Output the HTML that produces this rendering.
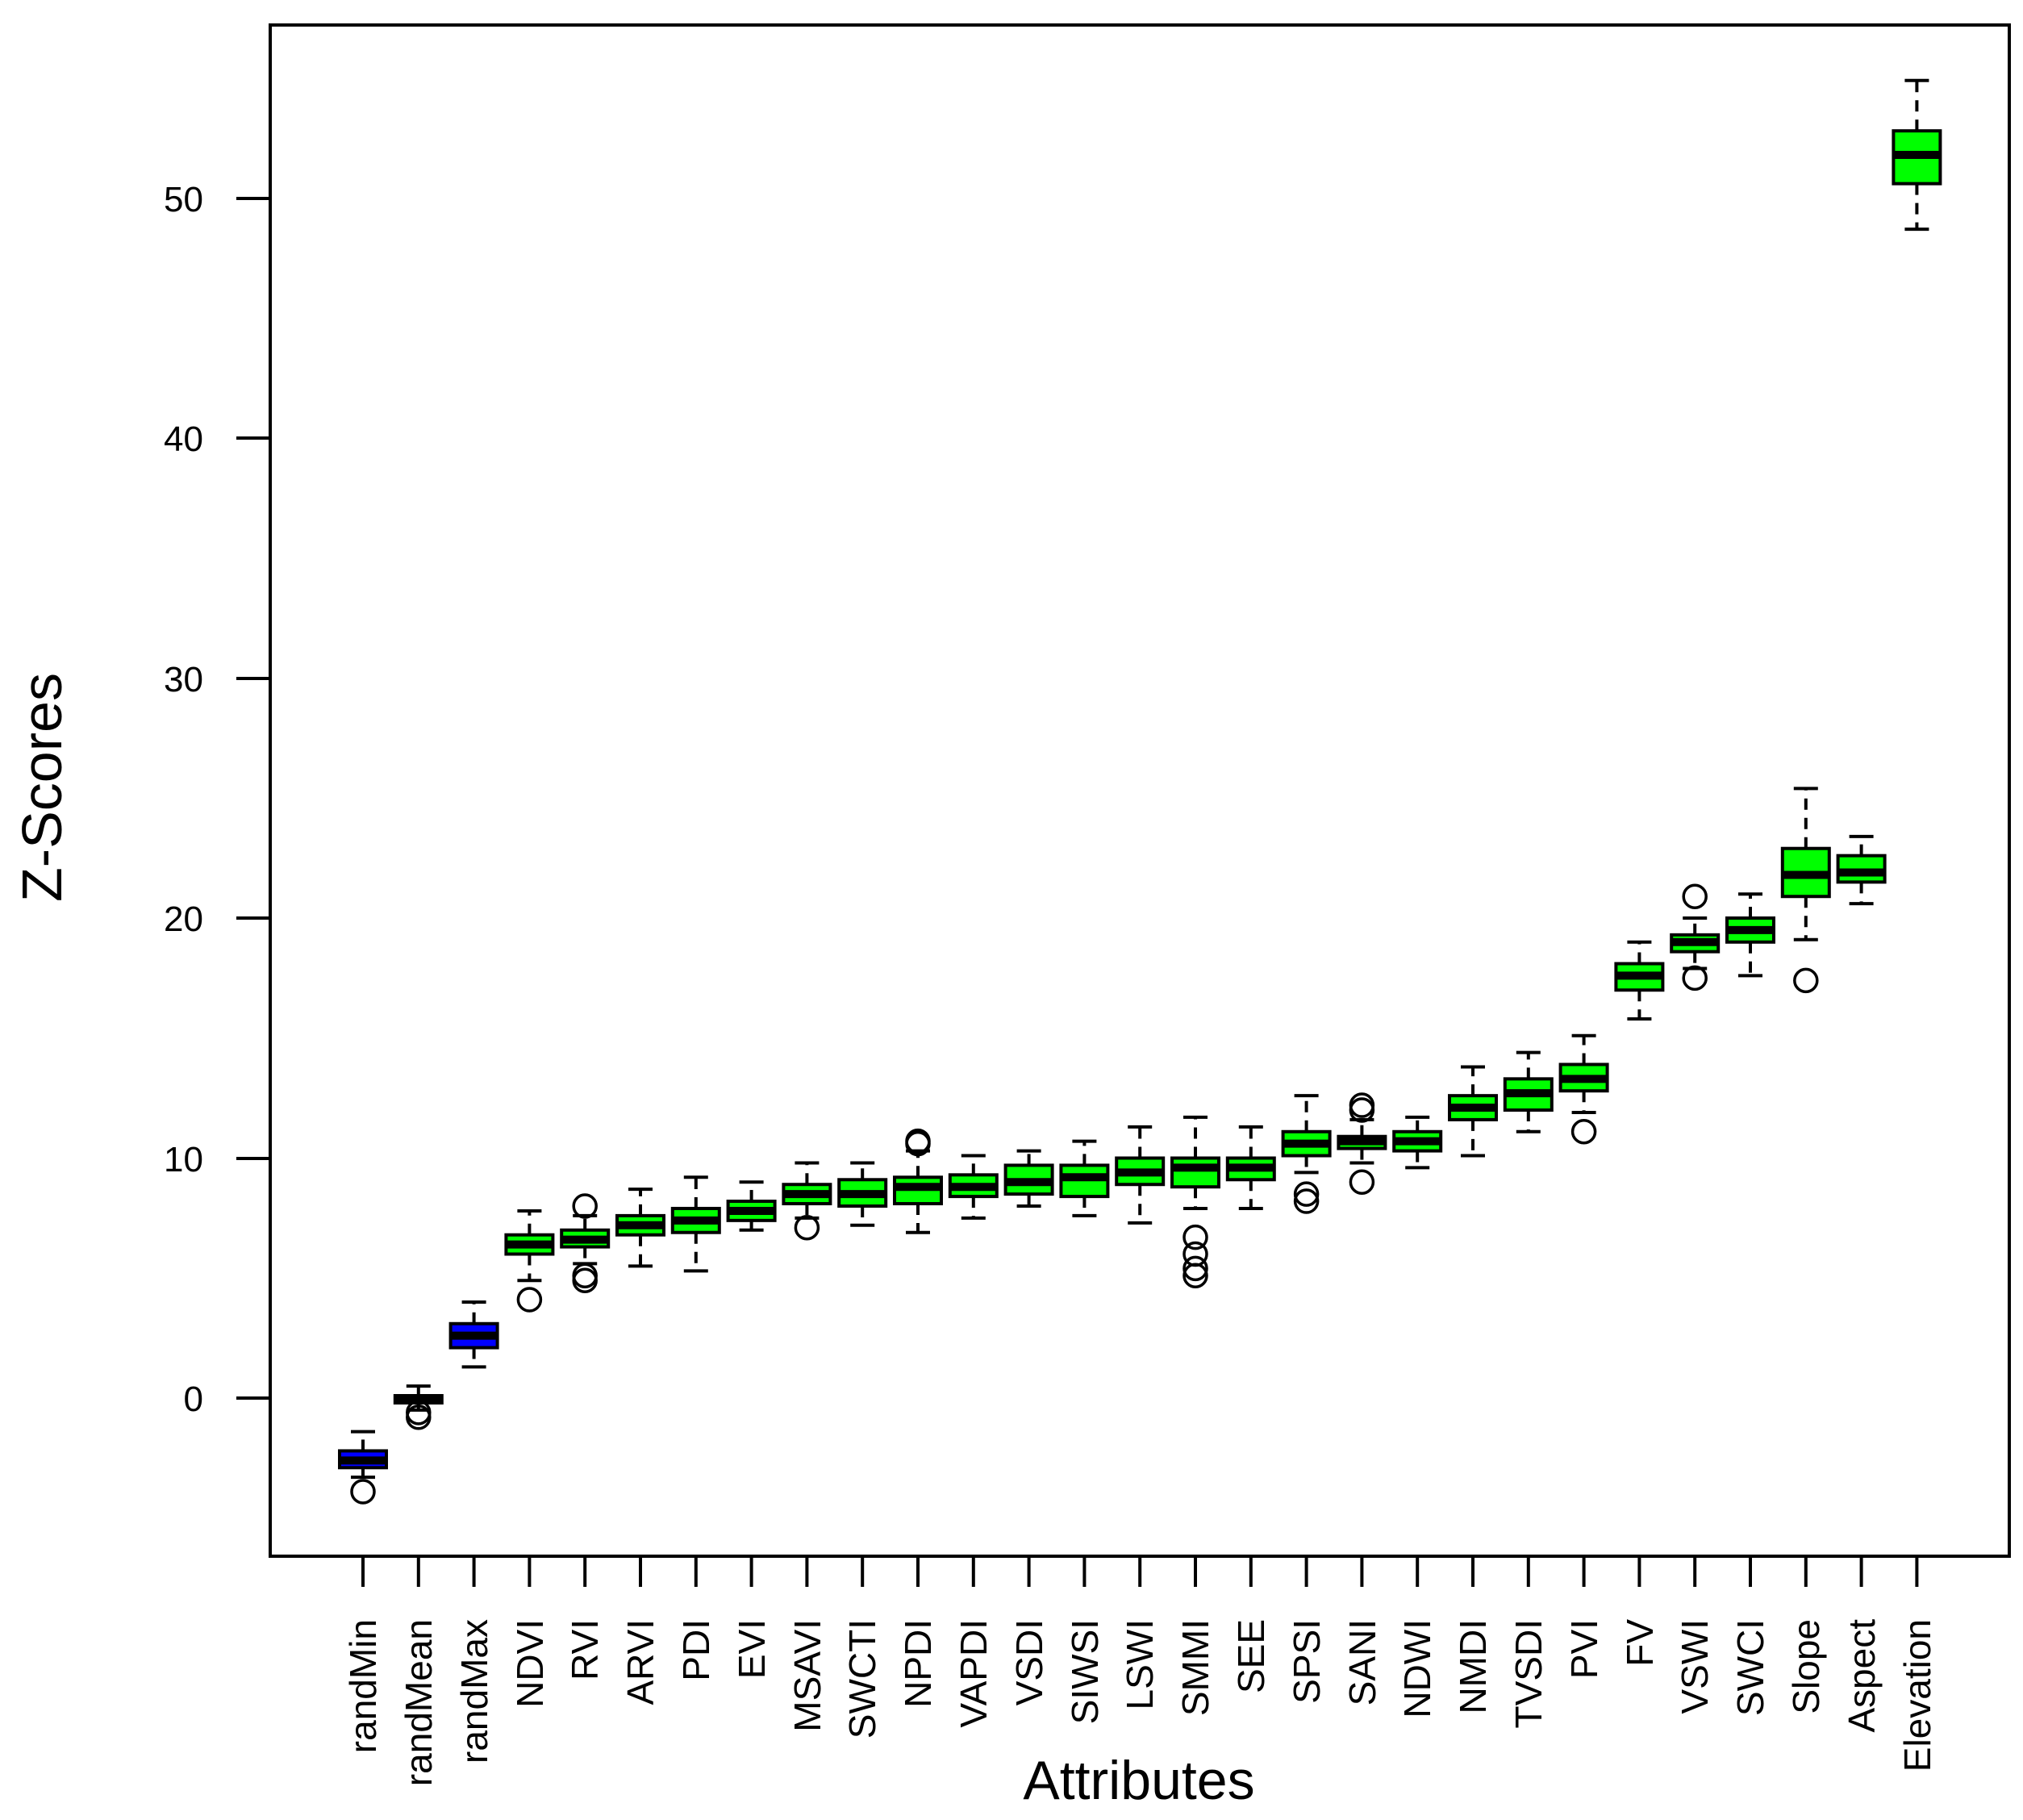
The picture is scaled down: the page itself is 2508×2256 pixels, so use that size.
<!DOCTYPE html>
<html><head><meta charset="utf-8"><style>body{margin:0;background:#fff}svg{display:block}text{font-family:"Liberation Sans",sans-serif;fill:#000}</style></head>
<body>
<svg id="s" width="2508" height="2256" xmlns="http://www.w3.org/2000/svg">
<rect x="335" y="31" width="2156" height="1898" fill="none" stroke="#000" stroke-width="4"/>
<g stroke="#000" stroke-width="4">
<line x1="293" y1="1733" x2="335" y2="1733"/><line x1="293" y1="1436" x2="335" y2="1436"/><line x1="293" y1="1138" x2="335" y2="1138"/><line x1="293" y1="841" x2="335" y2="841"/><line x1="293" y1="543" x2="335" y2="543"/><line x1="293" y1="246" x2="335" y2="246"/>
</g>
<g font-size="44" text-anchor="end">
<text x="252" y="1749">0</text><text x="252" y="1452">10</text><text x="252" y="1154">20</text><text x="252" y="857">30</text><text x="252" y="559">40</text><text x="252" y="262">50</text>
</g>
<text font-size="70" text-anchor="middle" transform="translate(76,976) rotate(-90)">Z-Scores</text>
<text font-size="68" text-anchor="middle" x="1412" y="2230">Attributes</text>
<g id="xl" font-size="46" text-anchor="end">
<text transform="translate(466,2007) rotate(-90)">randMin</text>
<text transform="translate(535,2007) rotate(-90)">randMean</text>
<text transform="translate(604,2007) rotate(-90)">randMax</text>
<text transform="translate(673,2007) rotate(-90)">NDVI</text>
<text transform="translate(741,2007) rotate(-90)">RVI</text>
<text transform="translate(810,2007) rotate(-90)">ARVI</text>
<text transform="translate(879,2007) rotate(-90)">PDI</text>
<text transform="translate(948,2007) rotate(-90)">EVI</text>
<text transform="translate(1017,2007) rotate(-90)">MSAVI</text>
<text transform="translate(1085,2007) rotate(-90)">SWCTI</text>
<text transform="translate(1154,2007) rotate(-90)">NPDI</text>
<text transform="translate(1223,2007) rotate(-90)">VAPDI</text>
<text transform="translate(1292,2007) rotate(-90)">VSDI</text>
<text transform="translate(1361,2007) rotate(-90)">SIWSI</text>
<text transform="translate(1429,2007) rotate(-90)">LSWI</text>
<text transform="translate(1498,2007) rotate(-90)">SMMI</text>
<text transform="translate(1567,2007) rotate(-90)">SEE</text>
<text transform="translate(1636,2007) rotate(-90)">SPSI</text>
<text transform="translate(1705,2007) rotate(-90)">SANI</text>
<text transform="translate(1773,2007) rotate(-90)">NDWI</text>
<text transform="translate(1842,2007) rotate(-90)">NMDI</text>
<text transform="translate(1911,2007) rotate(-90)">TVSDI</text>
<text transform="translate(1980,2007) rotate(-90)">PVI</text>
<text transform="translate(2049,2007) rotate(-90)">FV</text>
<text transform="translate(2117,2007) rotate(-90)">VSWI</text>
<text transform="translate(2186,2007) rotate(-90)">SWCI</text>
<text transform="translate(2255,2007) rotate(-90)">Slope</text>
<text transform="translate(2324,2007) rotate(-90)">Aspect</text>
<text transform="translate(2393,2007) rotate(-90)">Elevation</text>
</g>
<g id="g"></g>
</svg>
<script>
var d=[
[-2.9,-2.2,-2.6,-3.3,-1.4,[-3.9],'#0000ff'],
[-0.2,0.1,0,-0.5,0.5,[-0.6,-0.8],'#0000ff'],
[2.1,3.1,2.6,1.3,4.0,[],'#0000ff'],
[6.0,6.8,6.4,4.9,7.8,[4.1]],
[6.3,7.0,6.6,5.6,7.6,[8.0,5.1,4.9]],
[6.8,7.6,7.2,5.5,8.7,[]],
[6.9,7.9,7.4,5.3,9.2,[]],
[7.4,8.2,7.8,7.0,9.0,[]],
[8.1,8.9,8.5,7.5,9.8,[7.1]],
[8.0,9.1,8.5,7.2,9.8,[]],
[8.1,9.2,8.8,6.9,10.3,[10.6,10.7]],
[8.4,9.3,8.8,7.5,10.1,[]],
[8.5,9.7,9.0,8.0,10.3,[]],
[8.4,9.7,9.2,7.6,10.7,[]],
[8.9,10.0,9.4,7.3,11.3,[]],
[8.8,10.0,9.6,7.9,11.7,[6.7,6.0,5.4,5.1]],
[9.1,10.0,9.6,7.9,11.3,[]],
[10.1,11.1,10.6,9.4,12.6,[8.5,8.2]],
[10.4,10.9,10.7,9.8,11.6,[12.2,12.0,9.0]],
[10.3,11.1,10.7,9.6,11.7,[]],
[11.6,12.6,12.1,10.1,13.8,[]],
[12.0,13.3,12.7,11.1,14.4,[]],
[12.8,13.9,13.3,11.9,15.1,[11.1]],
[17.0,18.1,17.6,15.8,19.0,[]],
[18.6,19.3,19.0,17.9,20.0,[20.9,17.5]],
[19.0,20.0,19.5,17.6,21.0,[]],
[20.9,22.9,21.8,19.1,25.4,[17.4]],
[21.5,22.6,21.9,20.6,23.4,[]],
[50.6,52.8,51.8,48.7,54.9,[]]];
function Y(v){return 1733-v*29.75}
var h='';
d.forEach(function(b,i){var x=450+68.8*i,c=b[6]||'#00ff00';
h+='<line x1="'+x+'" y1="1929" x2="'+x+'" y2="1967" stroke="#000" stroke-width="4"/>';
h+='<line x1="'+x+'" y1="'+Y(b[1])+'" x2="'+x+'" y2="'+Y(b[4])+'" stroke="#000" stroke-width="4" stroke-dasharray="14,10"/>';
h+='<line x1="'+x+'" y1="'+Y(b[0])+'" x2="'+x+'" y2="'+Y(b[3])+'" stroke="#000" stroke-width="4" stroke-dasharray="14,10"/>';
h+='<line x1="'+(x-15)+'" y1="'+Y(b[4])+'" x2="'+(x+15)+'" y2="'+Y(b[4])+'" stroke="#000" stroke-width="4"/>';
h+='<line x1="'+(x-15)+'" y1="'+Y(b[3])+'" x2="'+(x+15)+'" y2="'+Y(b[3])+'" stroke="#000" stroke-width="4"/>';
h+='<rect x="'+(x-29)+'" y="'+Y(b[1])+'" width="58" height="'+(Y(b[0])-Y(b[1]))+'" fill="'+c+'" stroke="#000" stroke-width="4"/>';
h+='<line x1="'+(x-29)+'" y1="'+Y(b[2])+'" x2="'+(x+29)+'" y2="'+Y(b[2])+'" stroke="#000" stroke-width="10"/>';
b[5].forEach(function(o){h+='<circle cx="'+x+'" cy="'+Y(o)+'" r="14" fill="none" stroke="#000" stroke-width="3.5"/>';});
});
document.getElementById('g').innerHTML=h;
</script>
</body></html>
